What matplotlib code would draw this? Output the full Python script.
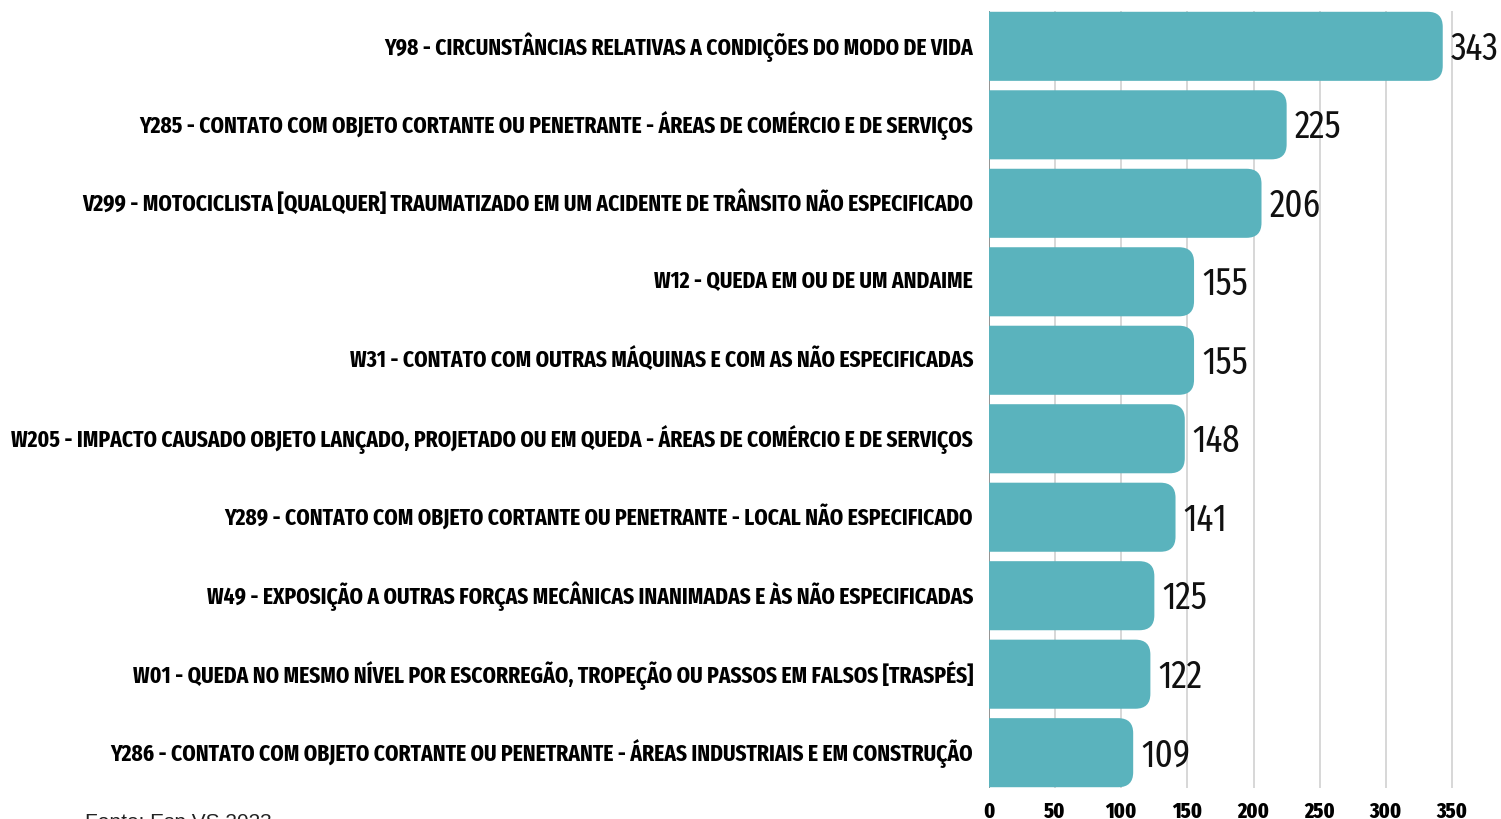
import matplotlib
matplotlib.use("Agg")
import matplotlib.pyplot as plt
from matplotlib.patches import FancyBboxPatch
from matplotlib.transforms import ScaledTranslation

categories = [
    "Y98 - CIRCUNSTÂNCIAS RELATIVAS A CONDIÇÕES DO MODO DE VIDA",
    "Y285 - CONTATO COM OBJETO CORTANTE OU PENETRANTE - ÁREAS DE COMÉRCIO E DE SERVIÇOS",
    "V299 - MOTOCICLISTA [QUALQUER] TRAUMATIZADO EM UM ACIDENTE DE TRÂNSITO NÃO ESPECIFICADO",
    "W12 - QUEDA EM OU DE UM ANDAIME",
    "W31 - CONTATO COM OUTRAS MÁQUINAS E COM AS NÃO ESPECIFICADAS",
    "W205 - IMPACTO CAUSADO OBJETO LANÇADO, PROJETADO OU EM QUEDA - ÁREAS DE COMÉRCIO E DE SERVIÇOS",
    "Y289 - CONTATO COM OBJETO CORTANTE OU PENETRANTE - LOCAL NÃO ESPECIFICADO",
    "W49 - EXPOSIÇÃO A OUTRAS FORÇAS MECÂNICAS INANIMADAS E ÀS NÃO ESPECIFICADAS",
    "W01 - QUEDA NO MESMO NÍVEL POR ESCORREGÃO, TROPEÇÃO OU PASSOS EM FALSOS [TRASPÉS]",
    "Y286 - CONTATO COM OBJETO CORTANTE OU PENETRANTE - ÁREAS INDUSTRIAIS E EM CONSTRUÇÃO",
]
values = [343, 225, 206, 155, 155, 148, 141, 125, 122, 109]
xticks = [0, 50, 100, 150, 200, 250, 300, 350]
source = "Fonte: Esp VS 2023"

COND = ["Fira Sans Extra Condensed", "Fira Sans Condensed", "Barlow Semi Condensed", "DejaVu Sans"]
BAR = "#5ab3bd"

W, H = 1501, 820
fig = plt.figure(figsize=(W / 100, H / 100), dpi=100)
left_px, right_px, top_px, bot_px = 989, 1495, 12, 789
ax = fig.add_axes([left_px / W, 1 - bot_px / H, (right_px - left_px) / W, (bot_px - top_px) / H])

xmax = (right_px - left_px) / ((1452 - 989) / 350)
ax.set_xlim(0, xmax)
n = len(values)
ax.set_ylim(n - 0.55, -0.45)

bh = 0.88
px_per_x = (right_px - left_px) / xmax
px_per_y = (bot_px - top_px) / (n - 0.1)
r_px = 15
r_x = r_px / px_per_x
aspect = (r_px / px_per_y) / r_x

val_texts = []
for i, v in enumerate(values):
    start = -2 * r_x
    p = FancyBboxPatch((start, i - bh / 2), v - start, bh,
                       boxstyle=f"round,pad=0,rounding_size={r_x}",
                       mutation_aspect=aspect, facecolor=BAR, edgecolor="none",
                       zorder=3, clip_on=True)
    ax.add_patch(p)
    val_texts.append(ax.text(v + 6, i + 0.02, str(v), va="center", ha="left", fontsize=24,
                             family=COND, fontweight="normal", color="#111111", zorder=4, clip_on=False))

for t in xticks:
    ax.axvline(t, color="#8a8a8a" if t == 0 else "#d4d4d4", lw=1.3, zorder=1)

ax.set_xticks(xticks)
ax.set_xticklabels([str(t) for t in xticks], fontsize=15, fontweight="heavy", family=COND)
ax.set_yticks(range(n))
ax.set_yticklabels(categories, fontsize=15.5, fontweight="bold", family=COND)
ax.tick_params(axis="both", length=0)
ax.tick_params(axis="y", pad=11.5)
ax.tick_params(axis="x", pad=9)
for s in ax.spines.values():
    s.set_visible(False)
for lab in ax.get_yticklabels():
    lab.set_transform(lab.get_transform() + ScaledTranslation(0, 3.5 / 100, fig.dpi_scale_trans))

fig.text(85 / W, 1 - 828 / H, source, fontsize=15, family=["Liberation Sans", "DejaVu Sans"],
         color="#222222", va="baseline", ha="left")

# fit font sizes to the reference text widths
fig.canvas.draw()
r = fig.canvas.get_renderer()
def fit(txts, target_px, idx):
    w = txts[idx].get_window_extent(r).width
    s = txts[idx].get_fontsize() * target_px / w
    for t in txts:
        t.set_fontsize(s)

fit(list(ax.get_yticklabels()), 961, 5)
fit(val_texts, 48, 0)
fit(list(ax.get_xticklabels()), 31, 7)

fig.savefig("out.png", dpi=100)
